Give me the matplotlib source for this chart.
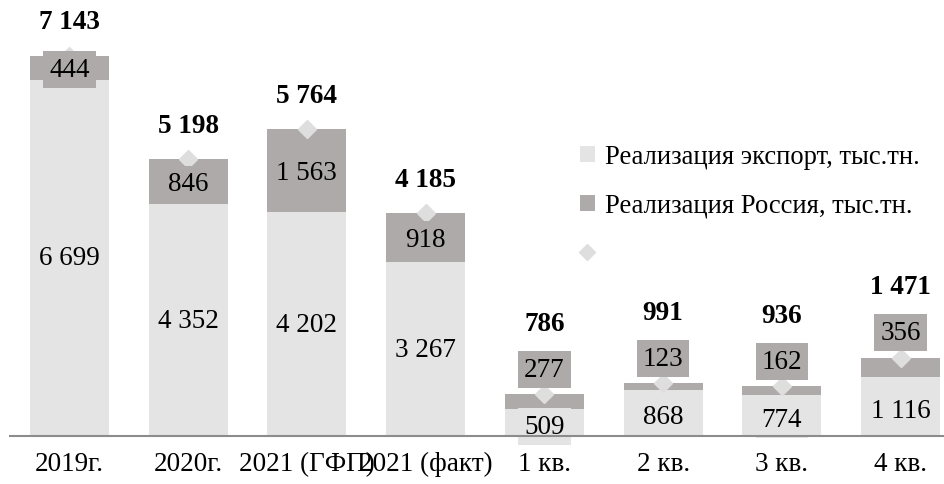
import matplotlib.pyplot as plt
from matplotlib.patches import Patch
from matplotlib.lines import Line2D

plt.rcParams['font.family'] = ['Liberation Serif', 'DejaVu Serif']
plt.rcParams['font.size'] = 19.5

categories = ['2019г.', '2020г.', '2021 (ГФП)', '2021 (факт)', '1 кв.', '2 кв.', '3 кв.', '4 кв.']
export = [6699, 4352, 4202, 3267, 509, 868, 774, 1116]
russia = [444, 846, 1563, 918, 277, 123, 162, 356]
totals = [7143, 5198, 5764, 4185, 786, 991, 936, 1471]

c_exp = '#e4e4e4'
c_rus = '#aeaaaa'
c_dia = '#dedede'


def fmt(v):
    return f'{v:,}'.replace(',', ' ')


fig = plt.figure(figsize=(9.45, 4.85), dpi=100)
ax = fig.add_axes([10 / 945, 48 / 485, 950 / 945, 437 / 485])

x = list(range(len(categories)))
ax.bar(x, export, width=0.665, color=c_exp, zorder=1)
ax.bar(x, russia, bottom=export, width=0.665, color=c_rus, zorder=1)
ax.plot(x, totals, linestyle='', marker='D', markersize=9, color=c_dia, zorder=2)

box = 'square,pad=0.22'
for i in x:
    quarter = i >= 4
    # export label
    ax.annotate(fmt(export[i]), (i, export[i] / 2), xytext=(0, -4 if quarter else 0),
                textcoords='offset pixels', ha='center', va='center', zorder=3,
                bbox=dict(boxstyle=box, fc=c_exp, ec='none'))
    # russia label
    if quarter:
        ax.annotate(fmt(russia[i]), (i, totals[i]), xytext=(0, 25),
                    textcoords='offset pixels', ha='center', va='center', zorder=3,
                    bbox=dict(boxstyle=box, fc=c_rus, ec='none'))
        off = 71
    else:
        ax.annotate(fmt(russia[i]), (i, export[i] + russia[i] / 2), xytext=(0, -2),
                    textcoords='offset pixels', ha='center', va='center', zorder=3,
                    bbox=dict(boxstyle=box, fc=c_rus, ec='none'))
        off = 34
    ax.annotate(fmt(totals[i]), (i, totals[i]), xytext=(0, off),
                textcoords='offset pixels', ha='center', va='center',
                fontweight='bold', zorder=3)

ax.set_xlim(-0.5, 7.5)
ax.set_ylim(0, 437 / 0.0532)
ax.set_xticks(x)
ax.set_xticklabels(categories)
ax.tick_params(axis='x', length=0, pad=11)
ax.set_yticks([])
for s in ['top', 'right', 'left']:
    ax.spines[s].set_visible(False)
ax.spines['bottom'].set_color('#8c8c8c')
ax.spines['bottom'].set_linewidth(1.5)
ax.spines['bottom'].set_zorder(4)

handles = [
    Patch(facecolor=c_exp, edgecolor='none'),
    Patch(facecolor=c_rus, edgecolor='none'),
    Line2D([], [], linestyle='', marker='D', markersize=8, color=c_dia),
]
labels = ['Реализация экспорт, тыс.тн.', 'Реализация Россия, тыс.тн.', '']
fig.legend(handles, labels, loc='upper left', bbox_to_anchor=(556 / 945, 1 - 121 / 485),
           frameon=False, handlelength=0.55, handleheight=0.55, handletextpad=0.4,
           labelspacing=0.9, fontsize=19.2)

fig.savefig('out.png', dpi=100)
